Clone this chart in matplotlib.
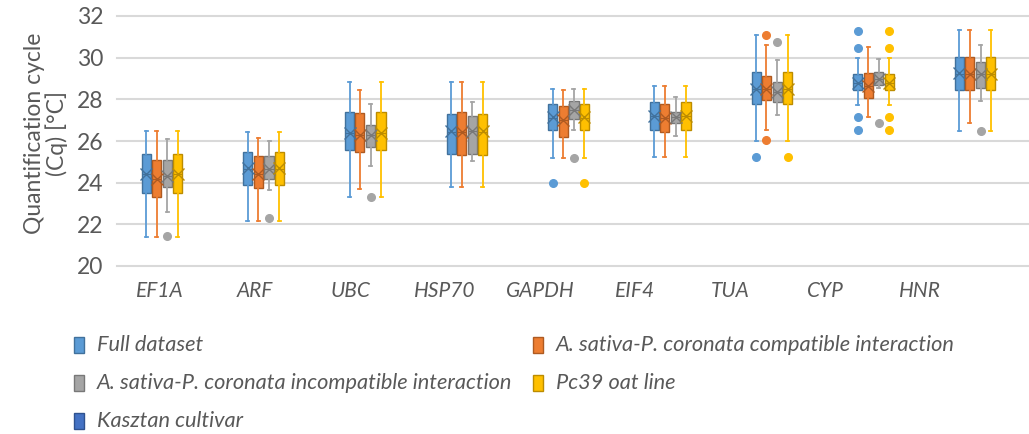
import matplotlib
matplotlib.use("Agg")
import matplotlib.pyplot as plt
from matplotlib.patches import Rectangle
import numpy as np

plt.rcParams['font.family'] = ['Lato', 'DejaVu Sans']

genes = ['EF1A', 'ARF', 'UBC', 'HSP70', 'GAPDH', 'EIF4', 'TUA', 'CYP', 'HNR']
labels = ['Full dataset',
          'A. sativa-P. coronata compatible interaction',
          'A. sativa-P. coronata incompatible interaction',
          'Pc39 oat line',
          'Kasztan cultivar']

# Full dataset
full_whi = [26.5, 26.45, 28.85, 28.85, 28.5, 28.65, 31.1, 30.0, 31.35]
full_q3 = [25.4, 25.45, 27.4, 27.3, 27.8, 27.85, 29.3, 29.2, 30.05]
full_q1 = [23.5, 23.9, 25.55, 25.4, 26.55, 26.55, 27.8, 28.45, 28.45]
full_wlo = [21.4, 22.15, 23.3, 23.8, 25.2, 25.25, 26.0, 27.75, 26.5]
full_mean = [24.4, 24.7, 26.4, 26.5, 27.15, 27.2, 28.5, 28.8, 29.25]
full_med = [24.4, 24.65, 26.4, 26.45, 27.1, 27.2, 28.5, 28.8, 29.2]
full_fliers = [[], [], [], [], [24.0], [], [25.25], [31.3, 30.45, 27.15, 26.55], []]

# compatible interaction
comp_whi = [26.5, 26.15, 28.45, 28.85, 28.45, 28.65, 30.6, 30.5, 31.35]
comp_q3 = [25.1, 25.3, 27.35, 27.4, 27.7, 27.8, 29.1, 29.25, 30.05]
comp_q1 = [23.3, 23.75, 25.45, 25.35, 26.2, 26.45, 27.95, 28.05, 28.45]
comp_wlo = [21.4, 22.15, 23.7, 23.8, 25.2, 25.25, 26.55, 27.15, 26.85]
comp_mean = [24.2, 24.4, 26.3, 26.45, 27.0, 27.1, 28.5, 28.65, 29.2]
comp_med = [24.2, 24.4, 26.3, 26.45, 27.0, 27.1, 28.5, 28.65, 29.2]
comp_fliers = [[], [], [], [], [], [], [31.1, 26.05], [], []]

# incompatible interaction
inc_whi = [26.1, 26.0, 27.8, 27.85, 28.5, 28.1, 29.9, 29.95, 30.6]
inc_q3 = [25.1, 25.3, 26.75, 27.2, 27.9, 27.4, 28.85, 29.3, 29.8]
inc_q1 = [23.8, 24.2, 25.7, 25.4, 27.05, 26.85, 27.85, 28.7, 28.55]
inc_wlo = [22.6, 23.65, 24.8, 25.05, 26.55, 26.25, 27.25, 28.55, 27.9]
inc_mean = [24.3, 24.65, 26.3, 26.5, 27.5, 27.15, 28.35, 29.0, 29.2]
inc_med = [24.3, 24.65, 26.3, 26.5, 27.5, 27.15, 28.35, 29.0, 29.2]
inc_fliers = [[21.45], [22.3], [23.3], [], [25.2], [], [30.75], [26.85], [26.5]]

# Pc39 oat line
pc_whi = [26.5, 26.45, 28.85, 28.85, 28.5, 28.65, 31.1, 30.0, 31.35]
pc_q3 = [25.4, 25.45, 27.4, 27.3, 27.8, 27.85, 29.3, 29.2, 30.05]
pc_q1 = [23.5, 23.9, 25.55, 25.35, 26.55, 26.55, 27.8, 28.45, 28.45]
pc_wlo = [21.4, 22.15, 23.3, 23.8, 25.2, 25.25, 26.0, 27.75, 26.5]
pc_mean = [24.4, 24.7, 26.4, 26.5, 27.15, 27.2, 28.5, 28.8, 29.2]
pc_med = [24.4, 24.65, 26.4, 26.45, 27.1, 27.2, 28.5, 28.8, 29.2]
pc_fliers = [[], [], [], [], [24.0], [], [25.25], [31.3, 30.45, 27.15, 26.55], []]

colors = ['#5B9BD5', '#ED7D31', '#A5A5A5', '#FFC000', '#4472C4']
edges = ['#41719C', '#AE5A21', '#787878', '#BC8C00', '#2F528F']
txt = '#595959'

series = [
    (full_whi, full_q3, full_q1, full_wlo, full_mean, full_med, full_fliers),
    (comp_whi, comp_q3, comp_q1, comp_wlo, comp_mean, comp_med, comp_fliers),
    (inc_whi, inc_q3, inc_q1, inc_wlo, inc_mean, inc_med, inc_fliers),
    (pc_whi, pc_q3, pc_q1, pc_wlo, pc_mean, pc_med, pc_fliers),
]
offsets = [-0.155, -0.053, 0.053, 0.155]

W, H = 1029, 434
fig = plt.figure(figsize=(W / 100, H / 100), dpi=100)
ax = fig.add_axes([117 / W, 1 - 266 / H, (W - 117) / W, 250 / H])

x = np.arange(len(genes))
for k, (whi, q3, q1, wlo, mean, med, fl) in enumerate(series):
    stats = []
    for i in range(len(genes)):
        stats.append(dict(whishi=whi[i], q3=q3[i], q1=q1[i], whislo=wlo[i],
                          mean=mean[i], med=med[i], fliers=fl[i]))
    ax.bxp(stats, positions=x + offsets[k], widths=0.09, capwidths=0.03,
           patch_artist=True, showmeans=True, manage_ticks=False,
           boxprops=dict(facecolor=colors[k], edgecolor=edges[k], linewidth=1.0),
           medianprops=dict(color=edges[k], linewidth=0.8),
           whiskerprops=dict(color=colors[k], linewidth=1.3),
           capprops=dict(color=colors[k], linewidth=1.3),
           meanprops=dict(marker='x', markeredgecolor=edges[k], markersize=8,
                          markeredgewidth=1.0),
           flierprops=dict(marker='o', markerfacecolor=colors[k],
                           markeredgecolor=colors[k], markersize=5.5))

ax.set_xlim(-0.443, 8.53)
ax.set_ylim(20, 32)
ax.set_yticks(np.arange(20, 33, 2))
# category labels sit on a slightly tighter pitch than the boxes in the original
ax.set_xticks(x * 0.935 - 0.02)
ax.set_xticklabels(genes, fontstyle='italic', fontsize=15, color=txt)
ax.tick_params(axis='y', length=0, pad=10, labelsize=16.5, labelcolor=txt)
ax.tick_params(axis='x', length=0, pad=11)
ax.grid(axis='y', color='#D9D9D9', linewidth=1.5)
ax.set_axisbelow(True)
for gl in ax.get_ygridlines():
    gl.set_clip_on(False)
for s in ax.spines.values():
    s.set_visible(False)

fig.text(46 / W, 1 - 133 / H, 'Quantification cycle\n(Cq) [°C]', rotation=90,
         ha='center', va='center', multialignment='center', fontsize=16.5,
         color=txt, linespacing=1.05)

# legend, laid out in rows like the original
leg_pos = [(97, 345), (556, 345), (97, 383), (556, 383), (97, 421)]
for k, (tx, ty) in enumerate(leg_pos):
    fig.add_artist(Rectangle(((tx - 23) / W, 1 - (ty + 8) / H), 10 / W, 16 / H,
                             facecolor=colors[k], edgecolor=edges[k], linewidth=1,
                             transform=fig.transFigure))
    fig.text(tx / W, 1 - ty / H, labels[k], ha='left', va='center',
             fontstyle='italic', fontsize=15.7, color=txt)

fig.savefig('out.png', dpi=100)
